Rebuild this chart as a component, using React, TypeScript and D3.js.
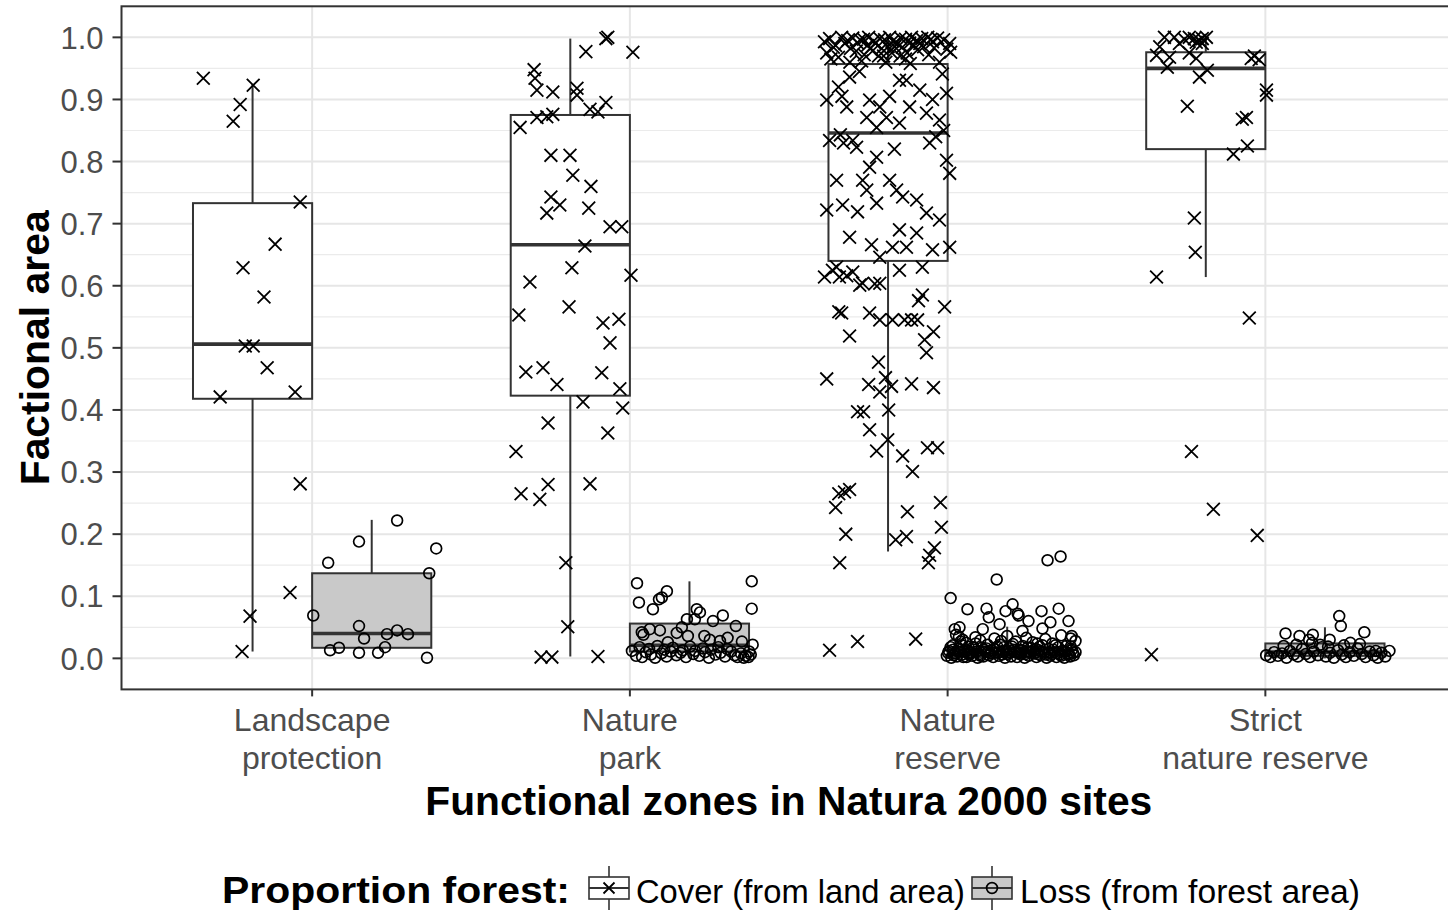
import React from "react";
import * as d3 from "d3";

// ---------- DATA ----------
const categories = ["Landscape protection", "Nature park", "Nature reserve", "Strict nature reserve"];
const categoryLabelLines = [
  ["Landscape", "protection"],
  ["Nature", "park"],
  ["Nature", "reserve"],
  ["Strict", "nature reserve"],
];
const seriesNames = ["Cover (from land area)", "Loss (from forest area)"];
const yTicks = [0, 0.1, 0.2, 0.3, 0.4, 0.5, 0.6, 0.7, 0.8, 0.9, 1.0];
const yMinorTicks = [0.05, 0.15, 0.25, 0.35, 0.45, 0.55, 0.65, 0.75, 0.85, 0.95];

// box statistics per category: [lower whisker, q1, median, q3, upper whisker]
const coverBoxes = [
  [0.011, 0.418, 0.506, 0.733, 0.925],
  [0.003, 0.423, 0.666, 0.875, 0.998],
  [0.172, 0.64, 0.846, 0.957, 1.0],
  [0.614, 0.82, 0.95, 0.976, 1.0],
];
const lossBoxes = [
  [0.017, 0.017, 0.04, 0.137, 0.223],
  [0.0, 0.011, 0.021, 0.056, 0.124],
  [0.0, 0.002, 0.006, 0.018, 0.051],
  [0.0, 0.004, 0.01, 0.024, 0.05],
];

// jittered observations: [jitter offset (category units), value]
const coverLandscape = [
  [-0.155, 0.934], [-0.061, 0.865], [-0.039, 0.892], [0.002, 0.923], [0.15, 0.735],
  [0.071, 0.667], [-0.03, 0.629], [0.036, 0.582], [-0.023, 0.503], [0.002, 0.503],
  [0.046, 0.468], [-0.102, 0.421], [0.134, 0.429], [0.15, 0.281], [0.118, 0.106],
  [-0.008, 0.068], [-0.033, 0.011],
];
const lossLandscape = [
  [0.08, 0.222], [-0.04, 0.188], [0.203, 0.177], [-0.137, 0.154], [0.181, 0.137],
  [-0.184, 0.069], [-0.04, 0.052], [-0.024, 0.032], [0.048, 0.039], [0.08, 0.045],
  [0.114, 0.039], [-0.131, 0.013], [-0.103, 0.017], [-0.04, 0.009], [0.02, 0.009],
  [0.042, 0.018], [0.174, 0.001],
];
const coverNaturePark = [
  [0.112, 0.998], [0.118, 1.0], [0.049, 0.977], [0.197, 0.976], [-0.114, 0.948],
  [-0.111, 0.934], [-0.105, 0.915], [-0.055, 0.912], [0.021, 0.918], [0.021, 0.907],
  [0.112, 0.895], [0.062, 0.884], [0.087, 0.88], [-0.055, 0.876], [-0.105, 0.871],
  [-0.074, 0.872], [-0.158, 0.855], [-0.061, 0.81], [-0.001, 0.81], [0.008, 0.778],
  [0.065, 0.76], [-0.061, 0.743], [-0.033, 0.73], [-0.074, 0.717], [0.058, 0.725],
  [0.125, 0.695], [0.162, 0.695], [0.046, 0.664], [0.005, 0.629], [0.191, 0.617],
  [-0.127, 0.606], [-0.162, 0.553], [-0.004, 0.566], [0.103, 0.54], [0.153, 0.546],
  [0.125, 0.508], [-0.14, 0.461], [-0.086, 0.468], [-0.042, 0.441], [0.099, 0.46],
  [0.156, 0.434], [0.04, 0.413], [0.165, 0.403], [-0.07, 0.379], [0.118, 0.363],
  [-0.171, 0.333], [-0.155, 0.265], [-0.096, 0.256], [-0.07, 0.28], [0.062, 0.281],
  [-0.014, 0.154], [-0.008, 0.051], [-0.092, 0.002], [-0.058, 0.002], [0.087, 0.003],
];
const lossNaturePark = [
  [-0.165, 0.121], [0.196, 0.124], [-0.159, 0.09], [-0.071, 0.108], [-0.087, 0.098],
  [-0.096, 0.095], [-0.115, 0.079], [0.196, 0.08], [0.023, 0.079], [0.033, 0.074],
  [0.105, 0.069], [0.074, 0.06], [-0.008, 0.063], [0.017, 0.063], [0.146, 0.052],
  [-0.024, 0.05], [-0.15, 0.042], [-0.125, 0.047], [-0.093, 0.045], [-0.005, 0.036],
  [-0.068, 0.026], [0.064, 0.03], [0.096, 0.028], [0.199, 0.022],
  [-0.181, 0.012], [-0.168, 0.004], [-0.157, 0.018], [-0.149, 0.002], [-0.138, 0.01],
  [-0.127, 0.015], [-0.121, 0.006], [-0.108, 0.001], [-0.101, 0.02], [-0.088, 0.008],
  [-0.079, 0.014], [-0.072, 0.003], [-0.059, 0.011], [-0.052, 0.017], [-0.041, 0.005],
  [-0.028, 0.009], [-0.021, 0.013], [-0.011, 0.002], [0.002, 0.019], [0.012, 0.007],
  [0.018, 0.012], [0.031, 0.004], [0.042, 0.016], [0.049, 0.01], [0.061, 0.001],
  [0.068, 0.014], [0.082, 0.006], [0.091, 0.018], [0.098, 0.009], [0.112, 0.003],
  [0.119, 0.015], [0.131, 0.011], [0.142, 0.005], [0.151, 0.002], [0.162, 0.008],
  [0.171, 0.001], [0.177, 0.004], [0.186, 0.002], [0.193, 0.006], [0.188, 0.011],
  [-0.145, 0.038], [-0.04, 0.041], [0.047, 0.036], [0.12, 0.033], [0.165, 0.027],
];
const coverNatureReserve = [
  // dense cluster near 1.0
  [-0.2, 0.993], [-0.184, 0.998], [-0.165, 0.987], [-0.146, 1.0], [-0.127, 0.995],
  [-0.111, 0.999], [-0.096, 0.991], [-0.077, 0.997], [-0.061, 1.0], [-0.045, 0.994],
  [-0.026, 0.998], [-0.011, 0.996], [0.005, 1.0], [0.024, 0.992], [0.04, 0.999],
  [0.055, 0.997], [0.074, 1.0], [0.09, 0.995], [0.106, 0.998], [0.125, 1.0],
  [0.14, 0.993], [0.156, 0.999], [0.175, 0.996], [0.194, 0.99],
  [-0.193, 0.975], [-0.156, 0.968], [-0.118, 0.982], [-0.083, 0.962], [-0.049, 0.978],
  [-0.014, 0.97], [0.021, 0.985], [0.055, 0.965], [0.093, 0.98], [0.128, 0.972],
  [0.162, 0.96], [0.197, 0.976], [0.0, 0.985], [0.03, 0.99], [0.06, 0.975],
  [0.1, 0.99], [-0.03, 0.97], [-0.172, 0.984], [-0.136, 0.99], [-0.1, 0.978],
  [-0.065, 0.987], [0.012, 0.975], [0.08, 0.988], [0.145, 0.983], [-0.04, 0.99],
  [-0.02, 0.982], [0.015, 0.994], [0.045, 0.984], [0.068, 0.991], [-0.055, 0.983],
  [-0.088, 0.996], [0.112, 0.985], [0.135, 0.997], [0.185, 0.981], [-0.18, 0.965],
  [-0.075, 0.972], [0.038, 0.97], [-0.007, 0.96], [0.07, 0.958], [-0.12, 0.96],
  // inside the box
  [-0.156, 0.92], [-0.121, 0.936], [-0.193, 0.899], [-0.13, 0.888], [-0.058, 0.899],
  [-0.026, 0.888], [0.036, 0.931], [0.058, 0.931], [0.005, 0.905], [0.068, 0.888],
  [0.121, 0.878], [0.162, 0.867], [0.184, 0.91], [0.171, 0.941], [-0.067, 0.871],
  [-0.005, 0.871], [0.036, 0.862], [-0.036, 0.855], [-0.111, 0.834], [-0.099, 0.823],
  [-0.184, 0.834], [-0.036, 0.807], [-0.058, 0.791], [0.131, 0.83], [0.184, 0.802],
  [0.194, 0.781], [-0.162, 0.77], [-0.08, 0.77], [-0.067, 0.754], [0.005, 0.77],
  [0.027, 0.754], [0.046, 0.743], [-0.193, 0.722], [-0.143, 0.73], [-0.096, 0.719],
  [-0.036, 0.733], [0.09, 0.738], [0.121, 0.717], [0.162, 0.706], [-0.121, 0.678],
  [-0.052, 0.666], [0.036, 0.69], [0.09, 0.685], [0.014, 0.662], [0.058, 0.662],
  [0.14, 0.658], [0.194, 0.662], [-0.026, 0.646], [-0.162, 0.63], [-0.2, 0.614],
  [-0.153, 0.614], [-0.08, 0.604], [-0.026, 0.604], [0.036, 0.625], [0.108, 0.63],
  [0.108, 0.585], [-0.145, 0.905], [-0.09, 0.945], [0.1, 0.915], [0.14, 0.9],
  [-0.15, 0.843], [-0.14, 0.83], [0.15, 0.84], [0.175, 0.85], [0.02, 0.82],
  // below the box
  [-0.175, 0.625], [-0.13, 0.616], [-0.111, 0.622], [-0.089, 0.601], [-0.042, 0.603],
  [-0.146, 0.556], [-0.155, 0.558], [-0.121, 0.519], [-0.058, 0.556], [0.014, 0.545],
  [0.052, 0.545], [0.074, 0.545], [0.093, 0.545], [-0.026, 0.545], [0.096, 0.576],
  [0.178, 0.566], [0.115, 0.513], [0.143, 0.526], [0.121, 0.492], [-0.03, 0.477],
  [-0.061, 0.441], [-0.008, 0.452], [0.011, 0.438], [0.074, 0.442], [0.143, 0.436],
  [-0.026, 0.429], [-0.096, 0.397], [-0.077, 0.397], [0.002, 0.4], [-0.193, 0.45],
  [-0.058, 0.368], [-0.001, 0.352], [-0.036, 0.334], [0.046, 0.326], [0.124, 0.339],
  [0.156, 0.339], [0.077, 0.301], [-0.137, 0.268], [-0.155, 0.265], [-0.121, 0.272],
  [-0.165, 0.243], [-0.133, 0.2], [0.165, 0.251], [0.168, 0.211], [0.061, 0.236],
  [0.024, 0.191], [0.058, 0.196], [0.131, 0.166], [0.146, 0.178], [-0.152, 0.154],
  [0.127, 0.154], [-0.184, 0.013], [-0.096, 0.027], [0.087, 0.031],
];
const lossNatureReserve = [
  [-0.178, 0.097], [-0.125, 0.079], [-0.065, 0.08], [-0.058, 0.066], [-0.033, 0.127],
  [-0.005, 0.076], [0.017, 0.087], [0.033, 0.072], [0.036, 0.069], [0.067, 0.06],
  [0.108, 0.076], [0.127, 0.158], [0.168, 0.164], [0.162, 0.08], [0.193, 0.06],
  [0.136, 0.058], [-0.024, 0.055], [-0.077, 0.047], [-0.15, 0.05], [-0.165, 0.047],
  [0.111, 0.048], [0.048, 0.044], [0.203, 0.036], [0.215, 0.028],
  [-0.14, 0.03], [-0.152, 0.035], [-0.161, 0.038], [-0.1, 0.034], [-0.04, 0.032],
  [0.0, 0.036], [0.06, 0.033], [0.12, 0.031], [0.17, 0.037], [0.2, 0.032],
  [-0.19, 0.004], [-0.183, 0.012], [-0.176, 0.001], [-0.171, 0.021], [-0.164, 0.008],
  [-0.158, 0.003], [-0.152, 0.016], [-0.147, 0.027], [-0.141, 0.006], [-0.135, 0.011],
  [-0.128, 0.002], [-0.122, 0.019], [-0.117, 0.009], [-0.11, 0.004], [-0.104, 0.014],
  [-0.099, 0.024], [-0.093, 0.001], [-0.087, 0.007], [-0.08, 0.017], [-0.075, 0.003],
  [-0.069, 0.011], [-0.062, 0.022], [-0.057, 0.005], [-0.05, 0.013], [-0.044, 0.002],
  [-0.038, 0.009], [-0.031, 0.019], [-0.026, 0.004], [-0.019, 0.028], [-0.013, 0.012],
  [-0.007, 0.001], [0.0, 0.007], [0.006, 0.016], [0.012, 0.003], [0.018, 0.023],
  [0.024, 0.01], [0.031, 0.002], [0.037, 0.014], [0.043, 0.006], [0.049, 0.02],
  [0.055, 0.001], [0.061, 0.011], [0.068, 0.004], [0.074, 0.017], [0.08, 0.026],
  [0.086, 0.008], [0.092, 0.002], [0.099, 0.013], [0.105, 0.005], [0.111, 0.021],
  [0.117, 0.009], [0.124, 0.001], [0.13, 0.015], [0.136, 0.004], [0.142, 0.024],
  [0.148, 0.01], [0.155, 0.002], [0.161, 0.018], [0.167, 0.006], [0.173, 0.012],
  [0.18, 0.001], [0.186, 0.02], [0.192, 0.008], [0.198, 0.003], [0.204, 0.014],
  [0.21, 0.005], [0.215, 0.01], [-0.17, 0.014], [-0.12, 0.006], [-0.06, 0.01],
  [-0.01, 0.018], [0.04, 0.009], [0.09, 0.015], [0.14, 0.007], [0.19, 0.013],
  [-0.186, 0.009], [-0.168, 0.005], [-0.155, 0.011], [-0.138, 0.002], [-0.125, 0.013],
  [-0.113, 0.008], [-0.096, 0.011], [-0.084, 0.004], [-0.072, 0.014], [-0.053, 0.008],
  [-0.041, 0.015], [-0.028, 0.009], [-0.016, 0.006], [-0.003, 0.012], [0.009, 0.009],
  [0.021, 0.014], [0.034, 0.008], [0.046, 0.013], [0.058, 0.007], [0.071, 0.01],
  [0.083, 0.013], [0.096, 0.007], [0.108, 0.011], [0.121, 0.006], [0.133, 0.009],
  [0.145, 0.014], [0.158, 0.008], [0.17, 0.004], [0.183, 0.011], [0.195, 0.006],
  [0.207, 0.009], [-0.178, 0.018], [-0.143, 0.021], [-0.107, 0.018], [-0.065, 0.016],
  [-0.022, 0.022], [0.015, 0.019], [0.064, 0.017], [0.102, 0.019], [0.152, 0.021],
  [0.2, 0.019], [-0.13, 0.025], [-0.085, 0.029], [0.027, 0.027], [0.095, 0.024],
];
const coverStrictReserve = [
  [-0.13, 1.0], [-0.099, 1.0], [-0.052, 1.0], [-0.03, 0.992], [-0.02, 0.995],
  [-0.011, 0.99], [0.002, 1.0], [-0.155, 0.971], [-0.114, 0.968], [-0.121, 0.952],
  [-0.083, 0.99], [-0.03, 0.966], [-0.02, 0.936], [0.005, 0.947], [0.143, 0.966],
  [0.168, 0.964], [0.191, 0.915], [0.191, 0.907], [-0.058, 0.889], [0.128, 0.871],
  [0.115, 0.868], [0.131, 0.825], [0.087, 0.812], [-0.036, 0.709], [-0.033, 0.654],
  [-0.155, 0.614], [0.137, 0.548], [-0.045, 0.333], [0.024, 0.24], [0.162, 0.198],
  [-0.171, 0.006], [-0.067, 0.997], [-0.036, 0.998], [-0.145, 0.985], [-0.052, 0.975],
  [0.153, 0.97], [-0.011, 0.998],
];
const lossStrictReserve = [
  [0.045, 0.068], [0.05, 0.052], [0.124, 0.042], [-0.038, 0.038], [-0.05, 0.03],
  [-0.08, 0.036], [-0.124, 0.04], [0.015, 0.03], [-0.015, 0.022], [0.08, 0.025],
  [0.16, 0.012],
  [-0.185, 0.005], [-0.172, 0.002], [-0.16, 0.01], [-0.148, 0.004], [-0.135, 0.008],
  [-0.121, 0.001], [-0.11, 0.012], [-0.098, 0.006], [-0.085, 0.003], [-0.072, 0.015],
  [-0.06, 0.007], [-0.047, 0.002], [-0.035, 0.011], [-0.022, 0.005], [-0.01, 0.018],
  [0.003, 0.003], [0.016, 0.009], [0.028, 0.001], [0.041, 0.013], [0.053, 0.006],
  [0.066, 0.002], [0.078, 0.01], [0.091, 0.004], [0.103, 0.016], [0.116, 0.007],
  [0.128, 0.002], [0.141, 0.011], [0.153, 0.005], [0.166, 0.001], [0.178, 0.009],
  [0.19, 0.003], [0.203, 0.012], [-0.13, 0.02], [-0.09, 0.022], [-0.04, 0.025],
  [0.01, 0.019], [0.06, 0.021], [0.11, 0.023],
];
const coverPoints = [coverLandscape, coverNaturePark, coverNatureReserve, coverStrictReserve];
const lossPoints = [lossLandscape, lossNaturePark, lossNatureReserve, lossStrictReserve];

// ---------- CHART ----------
const W = 1448;
const H = 910;
const FONT = "'Liberation Sans', Arial, Helvetica, sans-serif";
const DODGE = 0.1875;
const HALF = 0.1875;

const x = d3.scaleLinear().domain([-0.6, 3.6]).range([121.5, 1456]);
const y = d3.scaleLinear().domain([-0.05, 1.05]).range([689.4, 6.3]);

function Cross({ cx, cy, s = 6.4 }: { cx: number; cy: number; s?: number }) {
  return (
    <path
      d={`M${cx - s},${cy - s}L${cx + s},${cy + s}M${cx - s},${cy + s}L${cx + s},${cy - s}`}
      stroke="#000"
      strokeWidth={1.8}
      fill="none"
    />
  );
}
function Ring({ cx, cy }: { cx: number; cy: number }) {
  return <circle cx={cx} cy={cy} r={5.4} stroke="#000" strokeWidth={1.7} fill="none" />;
}

function Box({ stats, center, fill }: { stats: number[]; center: number; fill: string }) {
  const [lo, q1, med, q3, hi] = stats;
  const x0 = x(center - HALF);
  const x1 = x(center + HALF);
  const xm = x(center);
  return (
    <g>
      <line x1={xm} x2={xm} y1={y(q3)} y2={y(hi)} stroke="#333" strokeWidth={2} />
      <line x1={xm} x2={xm} y1={y(q1)} y2={y(lo)} stroke="#333" strokeWidth={2} />
      <rect x={x0} y={y(q3)} width={x1 - x0} height={Math.max(0.5, y(q1) - y(q3))} fill={fill} stroke="#333" strokeWidth={2} />
      <line x1={x0} x2={x1} y1={y(med)} y2={y(med)} stroke="#333" strokeWidth={3.6} />
    </g>
  );
}

export default function App() {
  const panelLeft = x(-0.6);
  const panelRight = x(3.6);
  const panelTop = y(1.05);
  const panelBottom = y(-0.05);
  const tickCats = d3.range(categories.length);

  return (
    <div style={{ position: "absolute", left: 0, top: 0 }}>
      <svg width={W} height={H} style={{ display: "block", background: "#fff" }} fontFamily={FONT}>
        <rect x={0} y={0} width={W} height={H} fill="#fff" />
        {/* grid */}
        {yMinorTicks.map((t) => (
          <line key={"mi" + t} x1={panelLeft} x2={panelRight} y1={y(t)} y2={y(t)} stroke="#EBEBEB" strokeWidth={1.2} />
        ))}
        {yTicks.map((t) => (
          <line key={"ma" + t} x1={panelLeft} x2={panelRight} y1={y(t)} y2={y(t)} stroke="#E6E6E6" strokeWidth={2} />
        ))}
        {tickCats.map((i) => (
          <line key={"vg" + i} x1={x(i)} x2={x(i)} y1={panelTop} y2={panelBottom} stroke="#E6E6E6" strokeWidth={2} />
        ))}

        {/* boxes */}
        {tickCats.map((i) => (
          <g key={"b" + i}>
            <Box stats={coverBoxes[i]} center={i - DODGE} fill="#FFFFFF" />
            <Box stats={lossBoxes[i]} center={i + DODGE} fill="#C9C9C9" />
          </g>
        ))}

        {/* points */}
        {tickCats.map((i) => (
          <g key={"p" + i}>
            {coverPoints[i].map((p, k) => (
              <Cross key={"c" + k} cx={x(i - DODGE + p[0])} cy={y(p[1])} />
            ))}
            {lossPoints[i].map((p, k) => (
              <Ring key={"l" + k} cx={x(i + DODGE + p[0])} cy={y(p[1])} />
            ))}
          </g>
        ))}

        {/* panel border */}
        <rect x={panelLeft} y={panelTop} width={panelRight - panelLeft} height={panelBottom - panelTop} fill="none" stroke="#333" strokeWidth={2} />

        {/* y axis */}
        {yTicks.map((t) => (
          <g key={"yt" + t}>
            <line x1={panelLeft - 9} x2={panelLeft} y1={y(t)} y2={y(t)} stroke="#333" strokeWidth={2} />
            <text x={panelLeft - 18} y={y(t)} dy="0.36em" textAnchor="end" fontSize={31} fill="#4D4D4D">
              {t.toFixed(1)}
            </text>
          </g>
        ))}
        {/* x axis */}
        {tickCats.map((i) => (
          <g key={"xt" + i}>
            <line x1={x(i)} x2={x(i)} y1={panelBottom} y2={panelBottom + 7} stroke="#333" strokeWidth={2} />
            {categoryLabelLines[i].map((ln, j) => (
              <text key={j} x={x(i)} y={731 + j * 38} textAnchor="middle" fontSize={32} fill="#4D4D4D">
                {ln}
              </text>
            ))}
          </g>
        ))}

        {/* axis titles */}
        <text x={(panelLeft + panelRight) / 2} y={815} textAnchor="middle" fontSize={41} fontWeight="bold" fill="#000" textLength={727} lengthAdjust="spacingAndGlyphs">
          Functional zones in Natura 2000 sites
        </text>
        <text transform={`translate(49,${(panelTop + panelBottom) / 2}) rotate(-90)`} textAnchor="middle" fontSize={41} fontWeight="bold" fill="#000" textLength={275} lengthAdjust="spacingAndGlyphs">
          Factional area
        </text>

        {/* legend */}
        <text x={222} y={903} fontSize={37} fontWeight="bold" fill="#000" textLength={348} lengthAdjust="spacingAndGlyphs">
          Proportion forest:
        </text>
        {[0, 1].map((s) => {
          const kx = s === 0 ? 589 : 972;
          const tx = s === 0 ? 636 : 1020;
          const tl = s === 0 ? 329 : 340;
          const cx = kx + 20;
          const cy = 888;
          return (
            <g key={"lg" + s}>
              <line x1={cx} x2={cx} y1={866} y2={910} stroke="#333" strokeWidth={1.6} />
              <rect x={kx} y={877} width={40} height={22} fill={s === 0 ? "#fff" : "#C9C9C9"} stroke="#333" strokeWidth={1.6} />
              <line x1={kx} x2={kx + 40} y1={cy} y2={cy} stroke="#333" strokeWidth={2} />
              {s === 0 ? <Cross cx={cx} cy={cy} s={5.5} /> : <Ring cx={cx} cy={cy} />}
              <text x={tx} y={903} fontSize={33} fill="#000" textLength={tl} lengthAdjust="spacingAndGlyphs">
                {seriesNames[s]}
              </text>
            </g>
          );
        })}
      </svg>
    </div>
  );
}
